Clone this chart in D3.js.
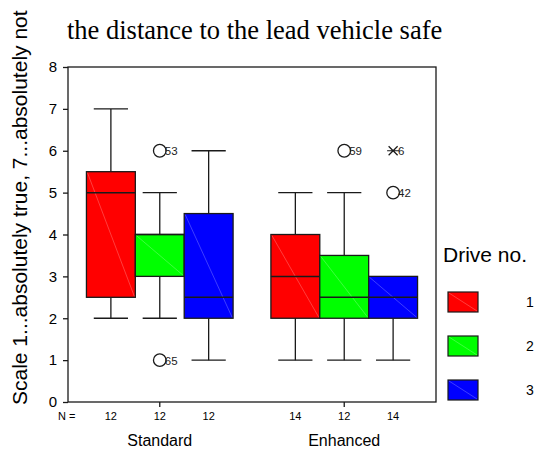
<!DOCTYPE html>
<html><head><meta charset="utf-8">
<script src="https://cdn.jsdelivr.net/npm/d3@7"></script>
<style>body{margin:0;background:#fff}svg{display:block}</style>
</head><body>
<script>
const groups = ["Standard", "Enhanced"];
const drives = ["1", "2", "3"];
const driveColors = ["#ff0000", "#00ff00", "#0000ff"];
const yTicks = [0, 1, 2, 3, 4, 5, 6, 7, 8];
// per box: Standard 1,2,3 then Enhanced 1,2,3
const whiskerLow  = [2,   2, 1,   1, 1,   1];
const q1          = [2.5, 3, 2,   2, 2,   2];
const median      = [5,   4, 2.5, 3, 2.5, 2.5];
const q3          = [5.5, 4, 4.5, 4, 3.5, 3];
const whiskerHigh = [7,   5, 6,   5, 5,   3];
const nCounts     = [12, 12, 12, 14, 12, 14];
const outlierBox   = [1, 1, 4, 5, 5];
const outlierValue = [6, 1, 6, 5, 6];
const outlierLabel = ["53", "65", "59", "42", "6"];
const outlierKind  = ["o", "o", "o", "o", "*"];

const W = 536, H = 453;
const svg = d3.select("body").append("svg").attr("width", W).attr("height", H);
const L = 68, R = 436, T = 67, B = 402;
const ink = "#1a1a1a";
const sans = "Liberation Sans, Arial, sans-serif";

const y = d3.scaleLinear().domain([0, 8]).range([B, T]);
const x0 = d3.scaleBand().domain(groups).range([L, R]).paddingInner(0.205).paddingOuter(0.1);
const x1 = d3.scaleBand().domain(drives).range([0, x0.bandwidth()]);

// title
svg.append("text").attr("x", 67).attr("y", 38.5)
  .attr("font-family", "Liberation Serif, Times New Roman, serif").attr("font-size", 26.5)
  .attr("fill", "#000").text("the distance to the lead vehicle safe");

// y label
svg.append("text").attr("transform", `translate(27,405) rotate(-90)`)
  .attr("font-family", sans).attr("font-size", 21)
  .attr("fill", "#000").text("Scale 1...absolutely true, 7...absolutely not");

// boxes
const boxes = d3.range(q1.length).map(i => ({
  i, g: groups[Math.floor(i / 3)], d: drives[i % 3], color: driveColors[i % 3]
}));
const bx = b => x0(b.g) + x1(b.d);
const bw = x1.bandwidth();
const capW = bw * 0.7;

const gb = svg.append("g");
boxes.forEach(b => {
  const cx = bx(b) + bw / 2;
  const i = b.i;
  gb.append("line").attr("x1", cx).attr("x2", cx).attr("y1", y(q3[i])).attr("y2", y(whiskerHigh[i]))
    .attr("stroke", ink).attr("stroke-width", 1.3);
  gb.append("line").attr("x1", cx).attr("x2", cx).attr("y1", y(q1[i])).attr("y2", y(whiskerLow[i]))
    .attr("stroke", ink).attr("stroke-width", 1.3);
  if (whiskerHigh[i] !== q3[i])
    gb.append("line").attr("x1", cx - capW / 2).attr("x2", cx + capW / 2).attr("y1", y(whiskerHigh[i])).attr("y2", y(whiskerHigh[i]))
      .attr("stroke", ink).attr("stroke-width", 1.3);
  if (whiskerLow[i] !== q1[i])
    gb.append("line").attr("x1", cx - capW / 2).attr("x2", cx + capW / 2).attr("y1", y(whiskerLow[i])).attr("y2", y(whiskerLow[i]))
      .attr("stroke", ink).attr("stroke-width", 1.3);
});
boxes.forEach(b => {
  const i = b.i, x = bx(b);
  gb.append("rect").attr("x", x).attr("y", y(q3[i])).attr("width", bw).attr("height", y(q1[i]) - y(q3[i]))
    .attr("fill", b.color).attr("stroke", ink).attr("stroke-width", 1.3);
  gb.append("line").attr("x1", x + 1).attr("y1", y(q3[i]) + 1).attr("x2", x + bw - 1).attr("y2", y(q1[i]) - 1)
    .attr("stroke", "#fff").attr("stroke-opacity", 0.3).attr("stroke-width", 0.8);
  gb.append("line").attr("x1", x).attr("x2", x + bw).attr("y1", y(median[i])).attr("y2", y(median[i]))
    .attr("stroke", ink).attr("stroke-width", 1.5);
});

// outliers
outlierBox.forEach((bi, k) => {
  const b = boxes[bi];
  const cx = bx(b) + bw / 2, cy = y(outlierValue[k]);
  if (outlierKind[k] === "o") {
    svg.append("circle").attr("cx", cx).attr("cy", cy).attr("r", 6.3)
      .attr("fill", "none").attr("stroke", ink).attr("stroke-width", 1.3);
  } else {
    const s = 4.5;
    svg.append("path").attr("d", `M${cx - s},${cy - s}L${cx + s},${cy + s}M${cx - s},${cy + s}L${cx + s},${cy - s}M${cx - s - 1.5},${cy}L${cx + s + 1.5},${cy}`)
      .attr("stroke", ink).attr("stroke-width", 1.2).attr("fill", "none");
  }
  svg.append("text").attr("x", cx + 5).attr("y", cy + 4.5)
    .attr("font-family", sans).attr("font-size", 11.5)
    .attr("fill", "#222").text(outlierLabel[k]);
});

// frame
svg.append("rect").attr("x", L).attr("y", T).attr("width", R - L).attr("height", B - T)
  .attr("fill", "none").attr("stroke", ink).attr("stroke-width", 1.3);

// y axis
const yAxis = d3.axisLeft(y).tickValues(yTicks).tickSize(5).tickPadding(6);
const ga = svg.append("g").attr("transform", `translate(${L},0)`).call(yAxis);
ga.select(".domain").remove();
ga.selectAll("line").attr("stroke", ink).attr("stroke-width", 1.3);
ga.selectAll("text").attr("font-family", sans).attr("font-size", 15).attr("fill", "#000");

// x axis ticks
const xAxis = d3.axisBottom(x0).tickSize(5).tickFormat("");
const gx = svg.append("g").attr("transform", `translate(0,${B})`).call(xAxis);
gx.select(".domain").remove();
gx.selectAll("line").attr("stroke", ink).attr("stroke-width", 1.3);

// N labels
svg.append("text").attr("x", 58).attr("y", 420)
  .attr("font-family", sans).attr("font-size", 11).text("N =");
boxes.forEach(b => {
  svg.append("text").attr("x", bx(b) + bw / 2).attr("y", 420).attr("text-anchor", "middle")
    .attr("font-family", sans).attr("font-size", 11).text(nCounts[b.i]);
});
groups.forEach(g => {
  svg.append("text").attr("x", x0(g) + x0.bandwidth() / 2).attr("y", 446).attr("text-anchor", "middle")
    .attr("font-family", sans).attr("font-size", 16).text(g);
});

// legend
svg.append("text").attr("x", 443).attr("y", 262)
  .attr("font-family", sans).attr("font-size", 21).text("Drive no.");
const ly = d3.scaleBand().domain(drives).range([288, 420]);
drives.forEach((d, k) => {
  const yy = ly(d) + 4;
  svg.append("rect").attr("x", 448).attr("y", yy).attr("width", 30).attr("height", 20)
    .attr("fill", driveColors[k]).attr("stroke", ink).attr("stroke-width", 1.2);
  svg.append("line").attr("x1", 449).attr("y1", yy + 1).attr("x2", 477).attr("y2", yy + 19)
    .attr("stroke", "#fff").attr("stroke-opacity", 0.3).attr("stroke-width", 0.8);
  svg.append("text").attr("x", 530).attr("y", yy + 15).attr("text-anchor", "middle")
    .attr("font-family", sans).attr("font-size", 14).text(d);
});
</script>
</body></html>
